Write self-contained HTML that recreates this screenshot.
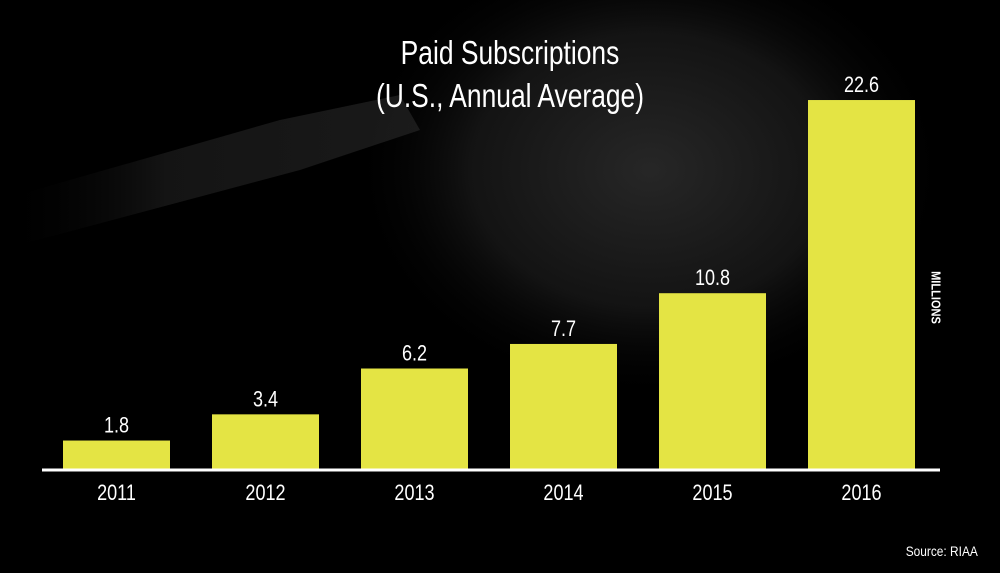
<!DOCTYPE html>
<html><head><meta charset="utf-8"><style>
html,body{margin:0;padding:0;background:#000;}
#wrap{position:relative;width:1000px;height:573px;overflow:hidden;background:#000;font-family:"Liberation Sans",sans-serif;color:#fff;}
#bg{position:absolute;left:0;top:0;}
.title{position:absolute;left:0;width:1020px;text-align:center;font-size:33px;line-height:36px;transform:scaleX(0.8);transform-origin:510px 0;}
.src{position:absolute;right:22px;top:543px;font-size:14px;transform:scaleX(0.85);transform-origin:right top;}
.mill{position:absolute;left:905px;top:290px;transform:rotate(90deg) scaleX(0.85);font-size:13px;font-weight:bold;transform-origin:center;}
</style></head><body>
<div id="wrap">
<svg id="bg" width="1000" height="573">
<defs>
<radialGradient id="g1" cx="0.5" cy="0.5" r="0.5"><stop offset="0" stop-color="#303030"/><stop offset="0.6" stop-color="#181818"/><stop offset="1" stop-color="#000" stop-opacity="0"/></radialGradient>
<linearGradient id="g2" x1="0" y1="0" x2="1" y2="0"><stop offset="0" stop-color="#000" stop-opacity="0"/><stop offset="0.4" stop-color="#222"/><stop offset="1" stop-color="#2a2a2a"/></linearGradient>
</defs>
<ellipse cx="650" cy="170" rx="300" ry="230" fill="url(#g1)" opacity="0.8"/>
<polygon points="0,200 0,250 300,170 420,130 400,95 280,120" fill="url(#g2)" opacity="0.6"/>
</svg>
<div class="title" style="top:35px">Paid Subscriptions</div>
<div class="title" style="top:78px">(U.S., Annual Average)</div>
<svg id="plot" width="1000" height="573" style="position:absolute;left:0;top:0"></svg>
<div class="mill">MILLIONS</div>
<div class="src">Source: RIAA</div>
</div>
<script>
const categories=["2011","2012","2013","2014","2015","2016"];
const values=[1.8,3.4,6.2,7.7,10.8,22.6];
const valueLabels=["1.8","3.4","6.2","7.7","10.8","22.6"];
const NS="http://www.w3.org/2000/svg";
const svg=document.getElementById('plot');
const base=470, ppu=16.37;
function y(v){return base-v*ppu;}
function x(i){return 63+i*149;}
const bw=107;
function txt(str,cx,cy,name){
  const t=document.createElementNS(NS,'text');
  t.setAttribute('transform','translate('+cx+','+cy+') scale(0.82,1)');
  t.setAttribute('text-anchor','middle');t.setAttribute('fill','#fff');
  t.setAttribute('font-size','22');t.setAttribute('font-family','"Liberation Sans",sans-serif');
  t.textContent=str;
  return t;
}
categories.forEach((c,i)=>{
  const r=document.createElementNS(NS,'rect');
  r.setAttribute('x',x(i));r.setAttribute('y',y(values[i]));
  r.setAttribute('width',bw);r.setAttribute('height',base-y(values[i]));
  r.setAttribute('fill','#e4e444');
  
  
  svg.appendChild(r);
  const t=txt(valueLabels[i],x(i)+bw/2,y(values[i])-8);
  
  
  svg.appendChild(t);
  const l=txt(c,x(i)+bw/2,500);
  
  
  svg.appendChild(l);
});
const ax=document.createElementNS(NS,'line');
ax.setAttribute('x1',42);ax.setAttribute('x2',940);ax.setAttribute('y1',base);ax.setAttribute('y2',base);
ax.setAttribute('stroke','#fff');ax.setAttribute('stroke-width','3');


svg.appendChild(ax);
</script>
</body></html>
